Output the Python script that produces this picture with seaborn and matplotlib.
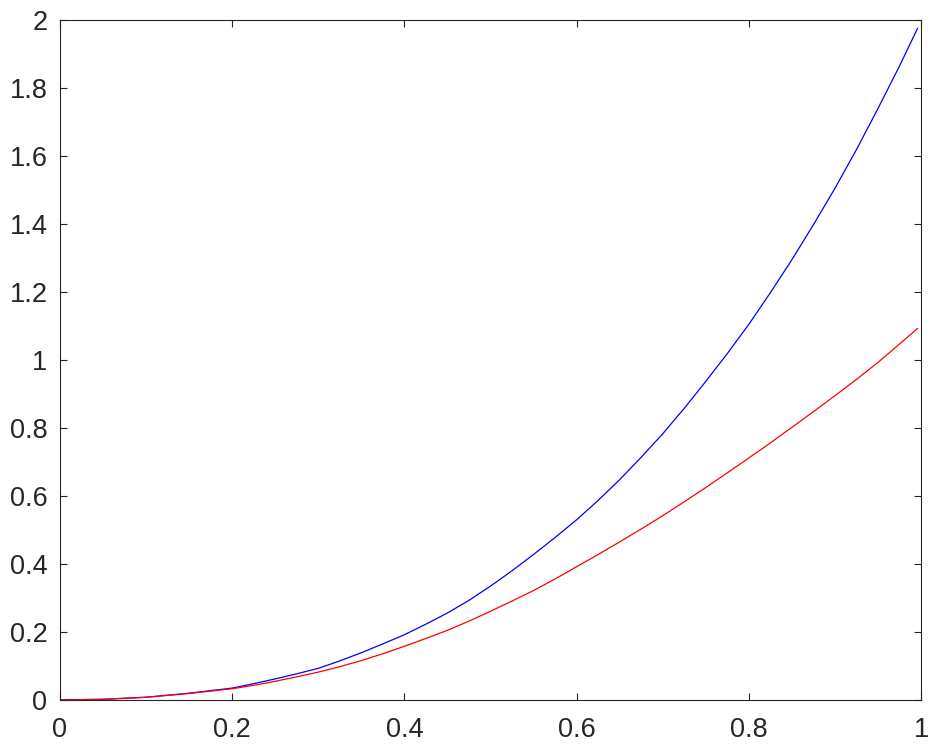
import numpy as np
import pandas as pd
import matplotlib
matplotlib.use("Agg")
import matplotlib.pyplot as plt
import seaborn as sns

# values
x_vals = [0.0, 0.05, 0.10, 0.15, 0.20, 0.225, 0.25, 0.275, 0.30, 0.325, 0.35, 0.375,
          0.40, 0.425, 0.45, 0.475, 0.50, 0.525, 0.55, 0.575, 0.60, 0.625, 0.65, 0.675,
          0.70, 0.725, 0.75, 0.775, 0.80, 0.825, 0.85, 0.875, 0.90, 0.925, 0.95, 0.975,
          0.996]
blue_vals = [0.0, 0.002, 0.008, 0.020, 0.035, 0.048, 0.062, 0.077, 0.093, 0.115, 0.139, 0.165,
             0.192, 0.223, 0.256, 0.293, 0.335, 0.380, 0.428, 0.478, 0.530, 0.587, 0.648, 0.714,
             0.783, 0.858, 0.937, 1.019, 1.105, 1.198, 1.295, 1.398, 1.505, 1.619, 1.740, 1.865,
             1.976]
red_vals = [0.0, 0.002, 0.008, 0.019, 0.033, 0.043, 0.055, 0.068, 0.082, 0.098, 0.116, 0.136,
            0.158, 0.181, 0.205, 0.232, 0.261, 0.291, 0.322, 0.356, 0.392, 0.428, 0.465, 0.503,
            0.542, 0.583, 0.625, 0.668, 0.712, 0.756, 0.802, 0.848, 0.895, 0.943, 0.993, 1.047,
            1.093]

x_ticks = [0, 0.2, 0.4, 0.6, 0.8, 1]
y_ticks = [0, 0.2, 0.4, 0.6, 0.8, 1, 1.2, 1.4, 1.6, 1.8, 2]

df = pd.DataFrame({
    "x": x_vals * 2,
    "y": blue_vals + red_vals,
    "series": ["blue"] * len(x_vals) + ["red"] * len(x_vals),
})

sns.set_style("ticks")
plt.rcParams["font.family"] = ["Liberation Sans", "DejaVu Sans"]

fig = plt.figure(figsize=(9.37, 7.5), dpi=100)
ax = fig.add_axes([0.064, 0.0667, 0.919, 0.9066])

sns.lineplot(
    data=df, x="x", y="y", hue="series",
    palette={"blue": "#0000ff", "red": "#ff0000"},
    linewidth=0.9, legend=False, ax=ax, sort=False
)

ax.set_xlim(0, 1)
ax.set_ylim(0, 2)
ax.set_xticks(x_ticks)
ax.set_yticks(y_ticks)
ax.set_xticklabels([f"{t:g}" for t in x_ticks])
ax.set_yticklabels([f"{t:g}" for t in y_ticks])
ax.set_xlabel("")
ax.set_ylabel("")

edge = "#262626"
for side in ["left", "right", "top", "bottom"]:
    ax.spines[side].set_visible(True)
    ax.spines[side].set_color(edge)
    ax.spines[side].set_linewidth(0.8)

ax.tick_params(axis="both", direction="in", length=5, width=0.8, color=edge,
               labelcolor=edge, labelsize=19.5, top=True, right=True)
ax.tick_params(axis="x", pad=12)
ax.tick_params(axis="y", pad=9)

fig.savefig("out.png", dpi=100)
